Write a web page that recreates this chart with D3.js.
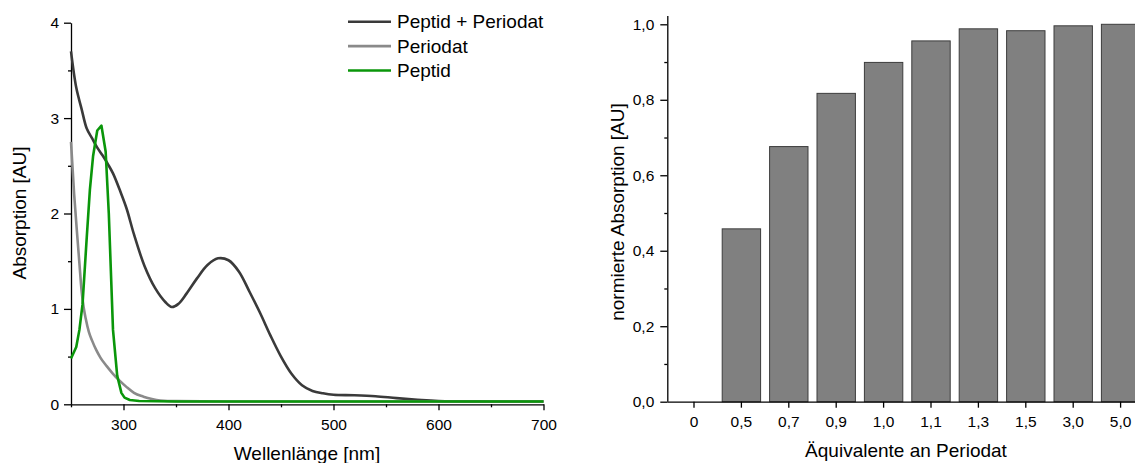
<!DOCTYPE html>
<html>
<head>
<meta charset="utf-8">
<script src="https://cdn.jsdelivr.net/npm/d3@7"></script>
<style>
  body { margin: 0; background: #fff; }
  svg { display: block; font-family: "Liberation Sans", Arial, sans-serif; }
  .axis path, .axis line { stroke: #000; stroke-width: 1.3px; }
  .axis text { font-size: 15.5px; fill: #000; }
</style>
</head>
<body>
<div id="graph"></div>
<script>
// spectra: wavelength [nm] / absorption [AU]
var mixWl  = [250, 255, 260, 265, 270, 275, 280, 285, 290, 297, 303, 310, 320, 330, 340, 346, 352, 360, 370, 380, 390, 400, 410, 420, 430, 440, 450, 460, 470, 480, 490, 500, 520, 540, 560, 580, 600, 650, 700];
var mixAbs = [3.70, 3.32, 3.10, 2.89, 2.79, 2.69, 2.61, 2.52, 2.42, 2.23, 2.05, 1.78, 1.45, 1.22, 1.07, 1.02, 1.05, 1.16, 1.32, 1.46, 1.53, 1.51, 1.39, 1.18, 0.96, 0.72, 0.50, 0.32, 0.20, 0.14, 0.115, 0.10, 0.095, 0.085, 0.065, 0.048, 0.035, 0.03, 0.03];

var perWl  = [250, 253, 256, 258, 260, 262, 264, 267, 270, 274, 278, 284, 290, 296, 303, 310, 319, 327, 335, 350, 400, 700];
var perAbs = [2.75, 2.20, 1.76, 1.48, 1.20, 1.02, 0.90, 0.76, 0.67, 0.57, 0.49, 0.40, 0.32, 0.25, 0.18, 0.12, 0.08, 0.055, 0.04, 0.033, 0.03, 0.03];

var pepWl  = [250, 255, 258, 261, 265, 268, 271, 275, 279, 283, 286, 290, 294, 298, 301, 306, 315, 350, 700];
var pepAbs = [0.48, 0.60, 0.78, 1.05, 1.75, 2.25, 2.60, 2.87, 2.92, 2.65, 2.00, 0.78, 0.30, 0.12, 0.07, 0.045, 0.035, 0.03, 0.03];

// bar chart: equivalents of periodate / normalised absorption
var equivLabels = ["0", "0,5", "0,7", "0,9", "1,0", "1,1", "1,3", "1,5", "3,0", "5,0"];
var normAbs     = [0, 0.458, 0.676, 0.817, 0.899, 0.956, 0.988, 0.983, 0.996, 1.0];

var legendNames  = ["Peptid + Periodat", "Periodat", "Peptid"];
var seriesColors = ["#3a3a3a", "#8a8a8a", "#0a960a"];

var W = 1135, H = 463;
var svg = d3.select("#graph").append("svg").attr("width", W).attr("height", H);
svg.append("rect").attr("width", W).attr("height", H).attr("fill", "#fff");

var fmtComma = function(d) { return d3.format(".1f")(d).replace(".", ","); };

// ---------- left: spectra ----------
var x1 = d3.scaleLinear().domain([250, 700]).range([71, 543.5]);
var y1 = d3.scaleLinear().domain([0, 4]).range([404.3, 22.7]);

var left = svg.append("g");

left.append("g").attr("class", "axis").attr("transform", "translate(0," + y1(0) + ")")
    .call(d3.axisBottom(x1).tickValues([300, 400, 500, 600, 700]).tickFormat(d3.format("d")).tickSize(6).tickPadding(9).tickSizeOuter(0));
left.append("g").attr("class", "axis").attr("transform", "translate(0," + y1(0) + ")")
    .call(d3.axisBottom(x1).tickValues([250, 350, 450, 550, 650]).tickSize(3).tickFormat(""))
    .select(".domain").remove();
left.append("g").attr("class", "axis").attr("transform", "translate(" + x1(250) + ",0)")
    .call(d3.axisLeft(y1).tickValues([0, 1, 2, 3, 4]).tickFormat(d3.format("d")).tickSize(7).tickPadding(5).tickSizeOuter(0));
left.append("g").attr("class", "axis").attr("transform", "translate(" + x1(250) + ",0)")
    .call(d3.axisLeft(y1).tickValues([0.5, 1.5, 2.5, 3.5]).tickSize(3).tickFormat(""))
    .select(".domain").remove();

var spectra = [
    {wl: mixWl, abs: mixAbs, curve: d3.curveCatmullRom.alpha(0.5)},
    {wl: perWl, abs: perAbs, curve: d3.curveMonotoneX},
    {wl: pepWl, abs: pepAbs, curve: d3.curveLinear}
];

spectra.forEach(function(s, i) {
    var pts = s.wl.map(function(w, j) { return [w, s.abs[j]]; });
    var line = d3.line().x(function(d) { return x1(d[0]); }).y(function(d) { return y1(d[1]); }).curve(s.curve);
    left.append("path")
        .datum(pts)
        .attr("d", line)
        .attr("fill", "none")
        .attr("stroke", seriesColors[i])
        .attr("stroke-width", 2.6)
        .attr("stroke-linejoin", "round");
});

var legend = left.append("g").attr("transform", "translate(348,21.7)");
legendNames.forEach(function(name, i) {
    var row = legend.append("g").attr("transform", "translate(0," + (i * 24.4) + ")");
    row.append("line").attr("x1", 0).attr("x2", 43).attr("y1", 0).attr("y2", 0)
        .attr("stroke", seriesColors[i]).attr("stroke-width", 2.6);
    row.append("text").attr("x", 49).attr("y", 6.6)
        .attr("font-size", "19px").text(name);
});

left.append("text")
    .attr("transform", "translate(26,213) rotate(-90)")
    .attr("text-anchor", "middle").attr("font-size", "19px")
    .text("Absorption [AU]");
left.append("text")
    .attr("x", 307).attr("y", 460)
    .attr("text-anchor", "middle").attr("font-size", "19px")
    .text("Wellenlänge [nm]");

// ---------- right: bars ----------
var x2 = d3.scaleBand().domain(equivLabels).range([670.3, 1144.3]).paddingInner(0.19).paddingOuter(0.095);
var y2 = d3.scaleLinear().domain([0, 1]).range([401.7, 24.3]);

var right = svg.append("g");

right.selectAll("rect.bar")
    .data(normAbs)
    .enter()
    .append("rect")
    .attr("class", "bar")
    .attr("x", function(d, i) { return x2(equivLabels[i]); })
    .attr("width", x2.bandwidth())
    .attr("y", function(d) { return y2(d); })
    .attr("height", function(d) { return y2(0) - y2(d); })
    .attr("fill", "#808080")
    .attr("stroke", "#3c3c3c")
    .attr("stroke-width", 1);

right.append("g").attr("class", "axis").attr("transform", "translate(0," + y2(0) + ")")
    .call(d3.axisBottom(x2).tickSize(6).tickPadding(8).tickSizeOuter(0))
    .select(".domain").attr("d", "M667.3,0.5H1135");
right.append("g").attr("class", "axis").attr("transform", "translate(667.3,0)")
    .call(d3.axisLeft(y2).tickValues([0, 0.2, 0.4, 0.6, 0.8, 1.0]).tickSize(7).tickPadding(6).tickFormat(fmtComma).tickSizeOuter(0))
    .select(".domain").attr("d", "M0.5," + y2(0) + "V" + y2(1.022));
right.append("g").attr("class", "axis").attr("transform", "translate(667.3,0)")
    .call(d3.axisLeft(y2).tickValues([0.1, 0.3, 0.5, 0.7, 0.9]).tickSize(3).tickFormat(""))
    .select(".domain").remove();

right.append("text")
    .attr("transform", "translate(624,212) rotate(-90)")
    .attr("text-anchor", "middle").attr("font-size", "19px")
    .text("normierte Absorption [AU]");
right.append("text")
    .attr("x", 906).attr("y", 457)
    .attr("text-anchor", "middle").attr("font-size", "19px")
    .text("Äquivalente an Periodat");
</script>
</body>
</html>
